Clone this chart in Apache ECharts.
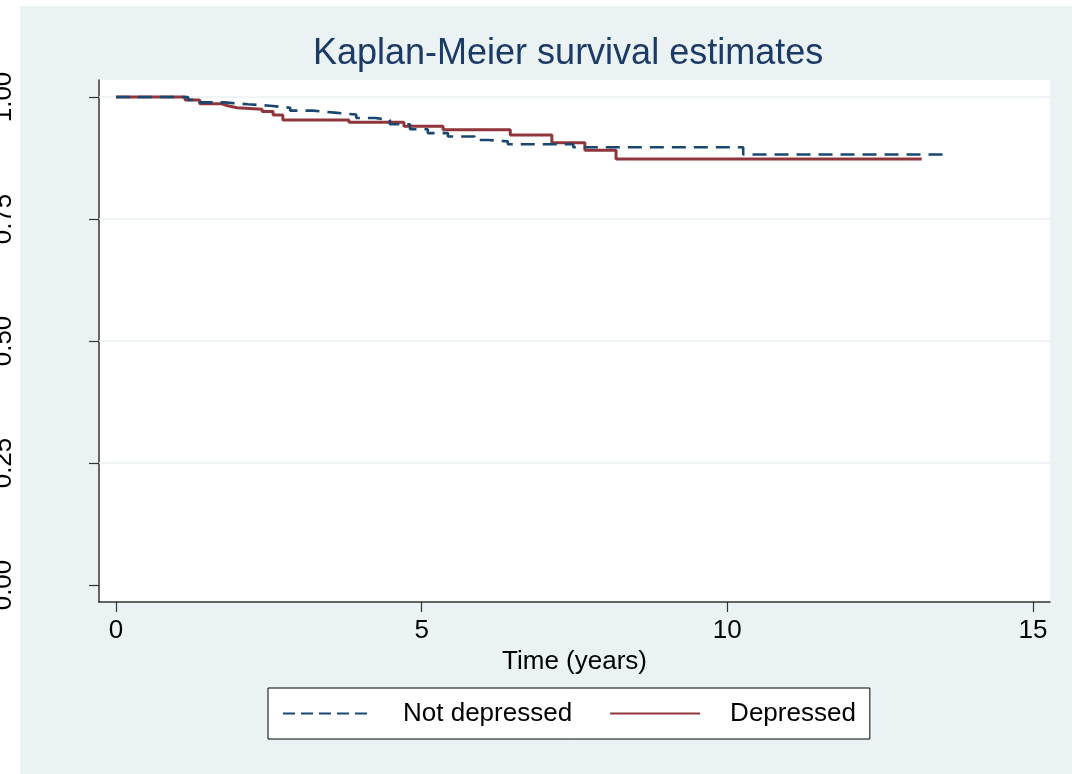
<!DOCTYPE html>
<html>
<head>
<meta charset="utf-8">
<title>Kaplan-Meier survival estimates</title>
<script src="https://cdn.jsdelivr.net/npm/echarts@6/dist/echarts.min.js"></script>
<style>
  html, body { margin: 0; padding: 0; background: #fff; }
  #chart { width: 1072px; height: 774px; }
</style>
</head>
<body>
<div id="chart"></div>
<script>
// Kaplan-Meier step estimates by depression status (time in years, survival probability)
const timeNotDepressed = [0, 1.18, 1.37, 1.78, 2.16, 2.52, 2.85, 3.22, 3.58, 3.93, 4.24, 4.48, 4.81, 5.10, 5.43, 5.87, 6.09, 6.41, 7.48, 10.26, 13.53];
const survNotDepressed = [1, 0.994, 0.989, 0.985, 0.982, 0.978, 0.972, 0.968, 0.964, 0.957, 0.953, 0.944, 0.934, 0.926, 0.919, 0.912, 0.909, 0.903, 0.897, 0.882, 0.882];

const timeDepressed = [0, 1.13, 1.37, 1.73, 1.83, 1.98, 2.39, 2.57, 2.73, 3.81, 4.71, 5.35, 6.45, 7.13, 7.67, 8.18, 13.18];
const survDepressed = [1, 0.994, 0.986, 0.982, 0.978, 0.975, 0.970, 0.963, 0.953, 0.948, 0.940, 0.933, 0.922, 0.906, 0.891, 0.873, 0.873];

const xTicks = [0, 5, 10, 15];
const yTicks = [0, 0.25, 0.5, 0.75, 1];
const yGridValues = [0.25, 0.5, 0.75, 1];

const seriesNames = ['Not depressed', 'Depressed'];
const titleText = 'Kaplan-Meier survival estimates';
const xAxisTitle = 'Time (years)';

const FONT = '"Liberation Sans", Arial, Helvetica, sans-serif';
const BG = '#EAF2F3';
const NAVY = '#1A476F';
const MAROON = '#90353B';
const AXIS = '#333333';

function pairs(xs, ys) {
  return xs.map((x, i) => [x, ys[i]]);
}

const chart = echarts.init(document.getElementById('chart'), null, { renderer: 'canvas' });

chart.setOption({
  backgroundColor: '#ffffff',
  animation: false,
  textStyle: { fontFamily: FONT },
  graphic: [{
    type: 'rect',
    z: -10,
    silent: true,
    shape: { x: 20, y: 6, width: 1052, height: 768 },
    style: { fill: BG }
  }],
  title: {
    text: titleText,
    left: 313,
    top: 36,
    padding: 0,
    textStyle: { fontFamily: FONT, fontSize: 36, fontWeight: 'normal', color: '#1C3A66' }
  },
  grid: {
    left: 99, right: 22, top: 80, bottom: 172,
    show: true, backgroundColor: '#ffffff', borderWidth: 0,
    containLabel: false,
    outerBoundsMode: 'none'
  },
  xAxis: {
    type: 'value',
    min: -0.278,
    max: 15.279,
    name: xAxisTitle,
    nameLocation: 'middle',
    nameGap: 44,
    nameTextStyle: { fontFamily: FONT, fontSize: 26, color: '#000' },
    axisLine: { show: true, onZero: false, lineStyle: { color: AXIS, width: 1.5 } },
    axisTick: { show: true, inside: false, length: 10, customValues: xTicks, lineStyle: { color: AXIS, width: 1.2 } },
    axisLabel: { customValues: xTicks, margin: 16, fontFamily: FONT, fontSize: 26, color: '#000' },
    splitLine: { show: false }
  },
  yAxis: {
    type: 'value',
    min: -0.0348,
    max: 1.0348,
    axisLine: { show: true, onZero: false, lineStyle: { color: AXIS, width: 1.5 } },
    axisTick: { show: true, inside: false, length: 10, customValues: yTicks, lineStyle: { color: AXIS, width: 1.2 } },
    axisLabel: {
      customValues: yTicks,
      rotate: 90,
      margin: 82,
      fontFamily: FONT, fontSize: 26, color: '#000',
      formatter: v => v.toFixed(2)
    },
    splitLine: { show: false }
  },
  legend: {
    data: [
      { name: seriesNames[0], lineStyle: { type: [12, 6] }, itemStyle: { opacity: 0 } },
      { name: seriesNames[1], itemStyle: { opacity: 0 } }
    ],
    left: 268,
    top: 688,
    orient: 'horizontal',
    padding: [11, 14, 11, 14],
    borderColor: '#000',
    borderWidth: 1,
    backgroundColor: '#ffffff',
    borderRadius: 0,
    itemWidth: 90,
    itemHeight: 14,
    itemGap: 37,
    selectedMode: false,
    itemStyle: { opacity: 0 },
    textStyle: { fontFamily: FONT, fontSize: 26, color: '#000', padding: [0, 0, 0, 25], lineHeight: 29 }
  },
  series: [
    {
      name: seriesNames[0],
      type: 'line',
      step: 'end',
      symbol: 'none',
      z: 3,
      data: pairs(timeNotDepressed, survNotDepressed),
      lineStyle: { color: NAVY, width: 2.6, type: [14, 8] },
      itemStyle: { color: NAVY },
      markLine: {
        silent: true,
        z: 1,
        symbol: ['none', 'none'],
        label: { show: false },
        lineStyle: { color: BG, width: 1.5, type: 'solid' },
        data: yGridValues.map(v => ({ yAxis: v }))
      }
    },
    {
      name: seriesNames[1],
      type: 'line',
      step: 'end',
      symbol: 'none',
      z: 2,
      data: pairs(timeDepressed, survDepressed),
      lineStyle: { color: MAROON, width: 3, type: 'solid' },
      itemStyle: { color: MAROON }
    }
  ]
});
</script>
</body>
</html>
